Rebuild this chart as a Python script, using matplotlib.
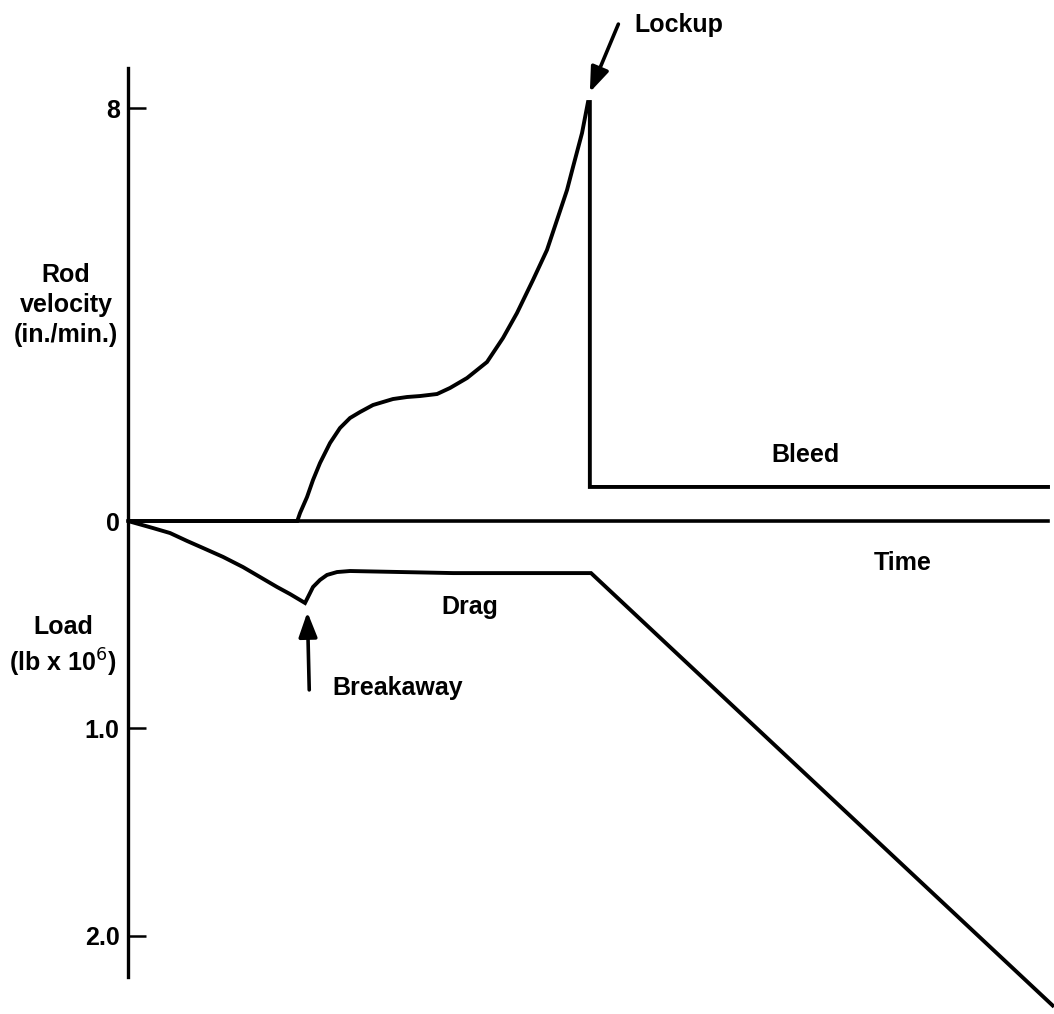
import matplotlib
matplotlib.use("Agg")
import matplotlib.pyplot as plt

plt.rcParams['font.family'] = ['Liberation Sans', 'DejaVu Sans']

# rod velocity (in./min.) against time (arbitrary units)
vel_time = [0, 1.84, 1.87, 1.946, 2.011, 2.087, 2.196, 2.304, 2.413, 2.522, 2.663,
            2.88, 3.033, 3.174, 3.359, 3.50, 3.685, 3.902, 4.076, 4.228, 4.402,
            4.554, 4.663, 4.772, 4.837, 4.935, 5.00, 5.02, 5.02, 10.0]
velocity = [0, 0, 0.155, 0.465, 0.795, 1.124, 1.512, 1.802, 1.996, 2.112, 2.248,
            2.364, 2.403, 2.422, 2.461, 2.578, 2.771, 3.081, 3.547, 4.031, 4.671,
            5.252, 5.833, 6.415, 6.86, 7.519, 8.12, 8.12, 0.66, 0.66]

# load (lb x 10^6) against time, drawn downward
load_time = [0, 0.272, 0.457, 0.641, 0.815, 1.033, 1.25, 1.435, 1.62, 1.761, 1.924,
             1.957, 2.011, 2.087, 2.163, 2.272, 2.413, 3.533, 5.033, 10.05]
load = [0, 0.034, 0.058, 0.096, 0.130, 0.173, 0.222, 0.270, 0.318, 0.352, 0.395,
        0.366, 0.318, 0.284, 0.260, 0.246, 0.241, 0.251, 0.251, 2.335]

vel_ticks = [8, 0]
vel_labels = ['8', '0']
load_ticks = [1.0, 2.0]
load_labels = ['1.0', '2.0']

fs = 18
fig = plt.figure(figsize=(10.54, 10.14), dpi=100)
ax = fig.add_axes([128 / 1054, 0, 926 / 1054, 1])
ax.set_xlim(0, 10.065)
ax.set_ylim(-9.554, 10.097)

ax2 = ax.twinx()
ax2.set_ylim(2.376, -2.511)
for s in ax2.spines.values():
    s.set_visible(False)

ax.spines['top'].set_visible(False)
ax.spines['right'].set_visible(False)
ax.spines['left'].set_linewidth(2.4)
ax.spines['left'].set_bounds(-8.84, 8.78)
ax.spines['bottom'].set_position(('data', 0))
ax.spines['bottom'].set_linewidth(2.6)
ax.spines['bottom'].set_bounds(0, 10.0)
ax.set_xticks([])

ax.set_yticks(vel_ticks)
ax.set_yticklabels(vel_labels)
ax.tick_params(axis='y', direction='in', length=13, width=1.8, pad=6,
               labelsize=fs)
ax2.yaxis.tick_left()
ax2.set_yticks(load_ticks)
ax2.set_yticklabels(load_labels)
ax2.tick_params(axis='y', direction='in', length=13, width=1.8, pad=6,
                labelsize=fs)
for lab in ax.get_yticklabels() + ax2.get_yticklabels():
    lab.set_fontweight('bold')

ax.plot(vel_time, velocity, color='black', lw=2.8, solid_joinstyle='miter')
ax2.plot(load_time, load, color='black', lw=2.8, solid_joinstyle='miter')

arrow = dict(arrowstyle='-|>,head_length=0.75,head_width=0.28', lw=2.6,
             color='black', shrinkA=0, shrinkB=0, mutation_scale=20)
ax.annotate('', xy=(5.02, 8.31), xytext=(5.33, 9.63), arrowprops=arrow)
ax.text(5.99, 9.61, 'Lockup', fontsize=fs, fontweight='bold', ha='center', va='center')
ax.text(7.36, 1.28, 'Bleed', fontsize=fs, fontweight='bold', ha='center', va='center')

ax2.annotate('', xy=(1.95, 0.439), xytext=(1.97, 0.814), arrowprops=arrow)
ax2.text(2.22, 0.805, 'Breakaway', fontsize=fs, fontweight='bold', ha='left', va='center')
ax2.text(3.72, 0.414, 'Drag', fontsize=fs, fontweight='bold', ha='center', va='center')
ax2.text(8.42, 0.202, 'Time', fontsize=fs, fontweight='bold', ha='center', va='center')

fig.text(66 / 1054, 1 - 305 / 1014, 'Rod\nvelocity\n(in./min.)', fontsize=fs,
         fontweight='bold', ha='center', va='center', linespacing=1.3)
fig.text(63 / 1054, 1 - 647 / 1014, 'Load\n(lb x 10$^{6}$)', fontsize=fs,
         fontweight='bold', ha='center', va='center', linespacing=1.3)

fig.savefig('out.png', dpi=100)
